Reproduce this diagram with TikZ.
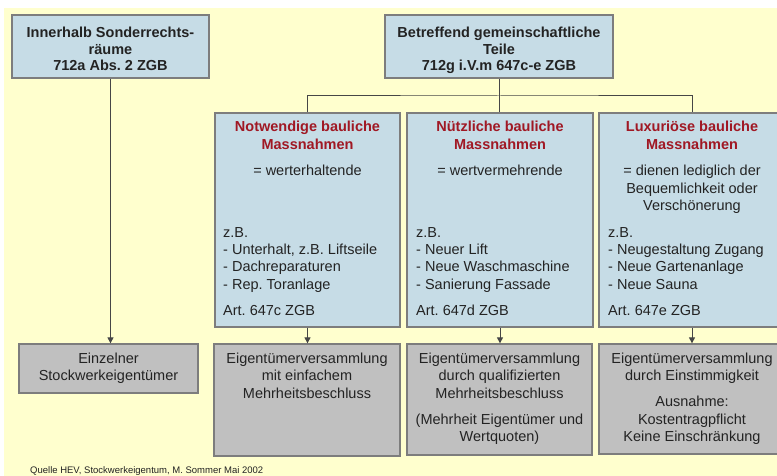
\documentclass[tikz,border=0pt]{standalone}
\usepackage{fontspec}
\setmainfont{Liberation Sans}
\usetikzlibrary{arrows.meta}
\frenchspacing
\definecolor{bgyellow}{RGB}{255,255,206}
\definecolor{boxblue}{RGB}{198,220,230}
\definecolor{boxgray}{RGB}{192,192,192}
\definecolor{boxline}{RGB}{125,125,125}
\definecolor{lineclr}{RGB}{70,70,70}
\definecolor{titlered}{RGB}{160,24,36}
\definecolor{txt}{RGB}{35,35,35}
\newcommand\txtlines[6]{%
  \foreach \t [count=\i from 0] in {#6} {%
    \node[#5, anchor=base, name=#1-\i] at (#2, #3+#4*\i) {\t};}}
\newcommand\txtleft[6]{%
  \foreach \t [count=\i from 0] in {#6} {%
    \node[#5, anchor=base west, name=#1-\i] at (#2, #3+#4*\i) {\t};}}
\begin{document}
\begin{tikzpicture}[x=1pt,y=-1pt,
  base/.style={draw=boxline, line width=1.3pt, inner sep=0pt},
  bluebox/.style={base, fill=boxblue},
  graybox/.style={base, fill=boxgray},
  bt/.style={font=\fontsize{14.5}{17}\selectfont\bfseries, text=txt, inner sep=0pt},
  rt/.style={font=\fontsize{14.5}{17}\selectfont\bfseries, text=titlered, inner sep=0pt},
  nt/.style={font=\fontsize{14.5}{17}\selectfont, text=txt, inner sep=0pt},
  conn/.style={draw=lineclr, line width=1pt},
  arr/.style={conn, -{Triangle[length=6pt,width=6pt]}}]
\useasboundingbox (0,0) rectangle (777,476);
\fill[white] (0,0) rectangle (777,476);
\fill[bgyellow] (4,8) rectangle (777,476);

% boxes
\node[bluebox, minimum width=197pt, minimum height=63pt] (A) at (110.5,46.5) {};
\node[bluebox, minimum width=228pt, minimum height=63pt] (B) at (499,46.5) {};
\node[bluebox, minimum width=185pt, minimum height=214pt] (N1) at (307.5,220) {};
\node[bluebox, minimum width=186pt, minimum height=214pt] (N2) at (500,220) {};
\node[bluebox, minimum width=186pt, minimum height=214pt] (N3) at (692,220) {};
\node[graybox, minimum width=179pt, minimum height=49pt] (E) at (108.5,368.5) {};
\node[graybox, minimum width=186pt, minimum height=112pt] (G1) at (307,400) {};
\node[graybox, minimum width=185pt, minimum height=111pt] (G2) at (499.5,399.5) {};
\node[graybox, minimum width=186pt, minimum height=110pt] (G3) at (692,399) {};

% connectors
\coordinate (bar) at (499,96);
\draw[conn] (B.south) -- (B.south |- N2.north);
\draw[conn] (N1.north) |- (bar) -| (N3.north);
\draw[arr] (A.south) -- (A.south |- E.north);
\draw[arr] (N1.south) -- (N1.south |- G1.north);
\draw[arr] (N2.south) -- (N2.south |- G2.north);
\draw[arr] (N3.south) -- (N3.south |- G3.north);

% top texts
\txtlines{ta}{110.5}{37.7}{16.5}{bt}{Innerhalb Sonderrechts-,räume,712a Abs. 2 ZGB}
\txtlines{tb}{499}{37.7}{16.5}{bt}{Betreffend gemeinschaftliche,Teile,712g i.V.m 647c-e ZGB}

% box 1
\txtlines{n1t}{307.5}{131.7}{17.6}{rt}{Notwendige bauliche,Massnahmen}
\txtlines{n1d}{307.5}{175.7}{17.6}{nt}{= werterhaltende}
\txtleft{n1l}{223}{237.7}{17.1}{nt}{z.B.,{- Unterhalt, z.B. Liftseile},- Dachreparaturen,- Rep. Toranlage}
\txtleft{n1a}{223}{315.7}{17}{nt}{Art. 647c ZGB}

% box 2
\txtlines{n2t}{500}{131.7}{17.6}{rt}{Nützliche bauliche,Massnahmen}
\txtlines{n2d}{500}{175.7}{17.6}{nt}{= wertvermehrende}
\txtleft{n2l}{416}{237.7}{17.1}{nt}{z.B.,- Neuer Lift,- Neue Waschmaschine,- Sanierung Fassade}
\txtleft{n2a}{416}{315.7}{17}{nt}{Art. 647d ZGB}

% box 3
\txtlines{n3t}{692}{131.7}{17.6}{rt}{Luxuriöse bauliche,Massnahmen}
\txtlines{n3d}{692}{175.7}{17.6}{nt}{= dienen lediglich der,Bequemlichkeit oder,Verschönerung}
\txtleft{n3l}{608}{237.7}{17.1}{nt}{z.B.,- Neugestaltung Zugang,- Neue Gartenanlage,- Neue Sauna}
\txtleft{n3a}{608}{315.7}{17}{nt}{Art. 647e ZGB}

% gray texts
\txtlines{et}{108.5}{363.3}{17}{nt}{Einzelner,Stockwerkeigentümer}
\txtlines{g1t}{307}{363.3}{17.5}{nt}{Eigentümerversammlung,mit einfachem,Mehrheitsbeschluss}
\txtlines{g2t}{499.5}{363.3}{17.5}{nt}{Eigentümerversammlung,durch qualifizierten,Mehrheitsbeschluss}
\txtlines{g2n}{499.5}{424.3}{17.4}{nt}{{(Mehrheit Eigentümer und},{Wertquoten)}}
\txtlines{g3t}{692}{363.3}{17.5}{nt}{Eigentümerversammlung,durch Einstimmigkeit}
\txtlines{g3n}{692}{406.7}{17.5}{nt}{Ausnahme:,Kostentragpflicht,Keine Einschränkung}

% footer
\node[font=\fontsize{9.5}{11}\selectfont, text=txt, inner sep=0pt, anchor=base west] (src) at (30,473) {Quelle HEV, Stockwerkeigentum, M. Sommer Mai 2002};
\end{tikzpicture}
\end{document}
